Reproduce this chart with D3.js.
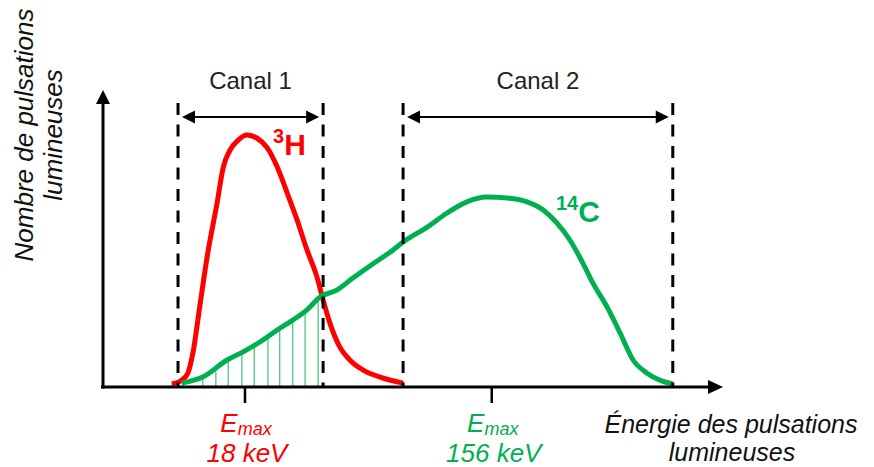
<!DOCTYPE html>
<html>
<head>
<meta charset="utf-8">
<script src="https://cdn.jsdelivr.net/npm/d3@7"></script>
<style>
  html, body { margin: 0; padding: 0; background: #fff; }
  svg { display: block; font-family: "Liberation Sans", Arial, sans-serif; }
</style>
</head>
<body>
<svg id="chart" width="874" height="467"></svg>
<script>
// ---- data (arbitrary energy units 0-100, arbitrary count units 0-100) ----
const tritiumX = [11.1, 12.7, 13.7, 14.5, 15.6, 16.9, 18.4, 19.4, 20.5, 21.8, 23.2, 24.8, 26.5, 28.1, 29.7, 31.3, 32.9, 34.5, 35.5, 36.6, 38.2, 39.8, 41.9, 44.7, 48.4];
const tritiumY = [1.0, 2.3, 4.7, 11.3, 26.7, 44.7, 61.3, 73.3, 79.0, 82.3, 84.0, 83.0, 79.7, 73.3, 64.7, 55.7, 45.7, 36.7, 29.0, 21.3, 13.3, 9.0, 5.7, 3.3, 1.3];
const carbonX = [12.7, 16.1, 20.0, 22.6, 25.3, 28.1, 30.6, 32.9, 35.0, 37.7, 40.3, 43.5, 46.8, 48.4, 52.3, 55.5, 58.7, 61.9, 65.2, 68.4, 71.0, 73.2, 75.3, 77.4, 79.0, 81.3, 83.4, 85.5, 87.7, 89.8, 91.9];
const carbonY = [1.3, 3.3, 9.0, 11.7, 15.0, 19.0, 22.3, 25.7, 30.0, 32.3, 36.3, 41.0, 45.7, 48.3, 53.3, 58.0, 61.7, 63.3, 63.0, 61.7, 59.0, 54.7, 49.0, 41.3, 34.7, 26.7, 18.0, 9.0, 4.7, 2.3, 1.0];
const hatchX = [16.1, 18.2, 20.2, 22.4, 24.4, 26.6, 28.5, 30.6, 32.6, 34.7];
const channelBounds = [12.1, 35.5, 48.4, 91.9];
const channelNames = ["Canal 1", "Canal 2"];
const emaxX = [22.9, 62.7];
const emaxLabels = ["18 keV", "156 keV"];
const isotopeNames = [["3", "H"], ["14", "C"]];

const RED = "#ff0000", GREEN = "#00b050";

const svg = d3.select("#chart");
svg.append("rect").attr("width", 874).attr("height", 467).attr("fill", "#fff");

const x = d3.scaleLinear().domain([0, 100]).range([103, 723]);
const y = d3.scaleLinear().domain([0, 100]).range([387, 87]);
const y0 = y(0);

// hatching under the 14C curve in channel 1
const carbonInterp = d3.scaleLinear().domain(carbonX).range(carbonY);
svg.append("g").selectAll("line").data(hatchX).join("line")
  .attr("x1", d => x(d)).attr("x2", d => x(d))
  .attr("y1", y0 + 1).attr("y2", d => y(carbonInterp(d)))
  .attr("stroke", GREEN).attr("stroke-width", 1.3).attr("opacity", 0.7);

// curves
const line = d3.line().x(d => x(d[0])).y(d => y(d[1])).curve(d3.curveMonotoneX);
const tri = tritiumX.map((v, i) => [v, tritiumY[i]]);
const carb = carbonX.map((v, i) => [v, carbonY[i]]);
svg.append("path").attr("d", line(tri)).attr("fill", "none")
  .attr("stroke", RED).attr("stroke-width", 5).attr("stroke-linejoin", "round");
svg.append("path").attr("d", line(carb)).attr("fill", "none")
  .attr("stroke", GREEN).attr("stroke-width", 5).attr("stroke-linejoin", "round");

// dashed channel boundaries
svg.append("g").selectAll("line").data(channelBounds).join("line")
  .attr("x1", d => x(d)).attr("x2", d => x(d))
  .attr("y1", 103).attr("y2", y0)
  .attr("stroke", "#000").attr("stroke-width", 3).attr("stroke-dasharray", "12,9.5");

// axes
const axisG = svg.append("g");
axisG.append("line").attr("x1", 101).attr("x2", 710).attr("y1", y0).attr("y2", y0)
  .attr("stroke", "#000").attr("stroke-width", 3);
axisG.append("path").attr("d", `M723,${y0} L708,${y0 - 7} L708,${y0 + 7} Z`).attr("fill", "#000");
axisG.append("line").attr("x1", 103).attr("x2", 103).attr("y1", y0 + 1.5).attr("y2", 102)
  .attr("stroke", "#000").attr("stroke-width", 3);
axisG.append("path").attr("d", `M103,90 L96,104 L110,104 Z`).attr("fill", "#000");
axisG.selectAll("line.tick").data(emaxX).join("line").attr("class", "tick")
  .attr("x1", d => x(d)).attr("x2", d => x(d)).attr("y1", y0).attr("y2", y0 + 16)
  .attr("stroke", "#000").attr("stroke-width", 2.5);

// channel arrows
const arrowY = 117;
const chG = svg.append("g");
[[0, 1], [2, 3]].forEach((pair, i) => {
  const a = x(channelBounds[pair[0]]) + 4, b = x(channelBounds[pair[1]]) - 4;
  chG.append("line").attr("x1", a + 10).attr("x2", b - 10).attr("y1", arrowY).attr("y2", arrowY)
    .attr("stroke", "#000").attr("stroke-width", 2);
  chG.append("path").attr("d", `M${a},${arrowY} L${a + 13},${arrowY - 6.5} L${a + 13},${arrowY + 6.5} Z`).attr("fill", "#000");
  chG.append("path").attr("d", `M${b},${arrowY} L${b - 13},${arrowY - 6.5} L${b - 13},${arrowY + 6.5} Z`).attr("fill", "#000");
  chG.append("text").attr("x", (a + b) / 2).attr("y", 89).attr("text-anchor", "middle")
    .attr("font-size", 24).attr("fill", "#222").text(channelNames[i]);
});

// Emax labels
const emaxColors = [RED, GREEN];
emaxX.forEach((v, i) => {
  const t = svg.append("text").attr("x", x(v) + 1).attr("y", 432).attr("text-anchor", "middle")
    .attr("font-size", 26).attr("font-style", "italic").attr("fill", emaxColors[i]);
  t.append("tspan").text("E");
  t.append("tspan").attr("font-size", 18).attr("dy", 3).text("max");
  svg.append("text").attr("x", x(v) + 2).attr("y", 462).attr("text-anchor", "middle")
    .attr("font-size", 26).attr("font-style", "italic").attr("fill", emaxColors[i]).text(emaxLabels[i]);
});

// isotope labels
const isoPos = [[273, 155, RED], [556, 222, GREEN]];
isotopeNames.forEach((n, i) => {
  const t = svg.append("text").attr("x", isoPos[i][0]).attr("y", isoPos[i][1])
    .attr("font-weight", "bold").attr("fill", isoPos[i][2]);
  t.append("tspan").attr("font-size", 20).attr("dy", -12).text(n[0]);
  t.append("tspan").attr("font-size", 30).attr("dy", 12).text(n[1]);
});

// axis titles
const xt = svg.append("text").attr("text-anchor", "middle").attr("font-size", 25)
  .attr("font-style", "italic").attr("fill", "#111");
xt.append("tspan").attr("x", 731).attr("y", 433).text("Énergie des pulsations");
xt.append("tspan").attr("x", 732).attr("y", 461).text("lumineuses");

const yt = svg.append("text").attr("text-anchor", "middle").attr("font-size", 26)
  .attr("font-style", "italic").attr("fill", "#111")
  .attr("transform", "rotate(-90)");
yt.append("tspan").attr("x", -135).attr("y", 33).text("Nombre de pulsations");
yt.append("tspan").attr("x", -135).attr("y", 62).text("lumineuses");
</script>
</body>
</html>
